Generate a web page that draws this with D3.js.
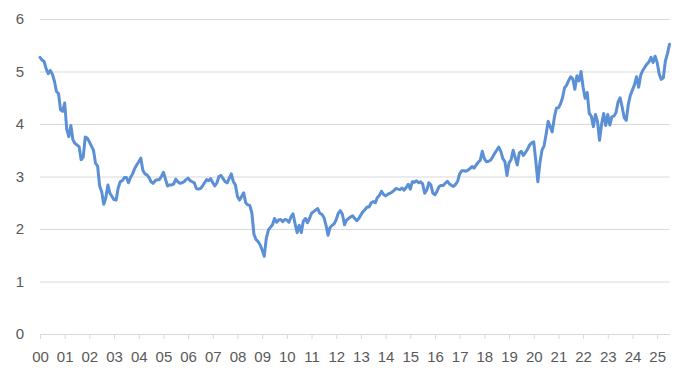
<!DOCTYPE html>
<html>
<head>
<meta charset="utf-8">
<script src="https://cdn.jsdelivr.net/npm/d3@7"></script>
<style>
  html, body { margin: 0; padding: 0; background: #ffffff; }
  svg { display: block; }
  .tick text { font-family: "Liberation Sans", Arial, sans-serif; font-size: 15px; fill: #595959; }
</style>
</head>
<body>
<svg id="chart" width="681" height="377"></svg>
<script>
// Monthly values, Jan 2000 .. Jul 2025
const values2000s = [
  5.27, 5.22, 5.19, 5.05, 4.96, 5.02, 4.95, 4.82, 4.62, 4.58, 4.27, 4.24,
  4.40, 3.90, 3.76, 3.97, 3.70, 3.63, 3.60, 3.57, 3.32, 3.37, 3.75, 3.73,
  3.66, 3.58, 3.50, 3.25, 3.20, 2.82, 2.71, 2.47, 2.60, 2.84, 2.68, 2.62,
  2.56, 2.55, 2.78, 2.90, 2.92, 2.98, 2.98, 2.88, 2.98, 3.05, 3.15, 3.22,
  3.28, 3.35, 3.12, 3.05, 3.03, 2.98, 2.90, 2.87, 2.92, 2.94, 2.94, 3.00,
  3.08, 2.95, 2.82, 2.84, 2.84, 2.86, 2.95, 2.90, 2.87, 2.88, 2.90, 2.94,
  2.97, 2.92, 2.90, 2.88, 2.77, 2.76, 2.77, 2.82, 2.88, 2.94, 2.92, 2.96,
  2.88, 2.82, 2.88, 3.00, 3.02, 2.96, 2.90, 2.88, 2.97, 3.05, 2.90, 2.84,
  2.62, 2.55, 2.62, 2.69, 2.50, 2.46, 2.45, 2.30, 1.90, 1.80, 1.76, 1.70,
  1.60, 1.48, 1.82, 1.98, 2.03, 2.08, 2.20, 2.13, 2.17, 2.18, 2.14, 2.18
];
const values2010s = [
  2.17, 2.13, 2.23, 2.29, 2.10, 1.93, 2.07, 1.93, 2.15, 2.20, 2.12, 2.20,
  2.30, 2.33, 2.36, 2.39, 2.30, 2.28, 2.22, 2.08, 1.88, 2.03, 2.07, 2.10,
  2.18, 2.30, 2.35, 2.28, 2.08, 2.17, 2.20, 2.23, 2.25, 2.20, 2.16, 2.20,
  2.27, 2.33, 2.37, 2.42, 2.42, 2.50, 2.52, 2.50, 2.60, 2.64, 2.72, 2.66,
  2.63, 2.66, 2.68, 2.70, 2.73, 2.77, 2.76, 2.75, 2.78, 2.74, 2.79, 2.85,
  2.76, 2.90, 2.89, 2.92, 2.88, 2.90, 2.86, 2.68, 2.74, 2.88, 2.84, 2.68,
  2.65, 2.72, 2.81, 2.83, 2.83, 2.87, 2.91, 2.86, 2.83, 2.81, 2.85, 2.91,
  3.05, 3.11, 3.11, 3.10, 3.12, 3.15, 3.19, 3.16, 3.22, 3.27, 3.31, 3.48,
  3.34, 3.28, 3.29, 3.31, 3.37, 3.44, 3.50, 3.56, 3.48, 3.34, 3.28, 3.02,
  3.26, 3.32, 3.50, 3.36, 3.22, 3.45, 3.48, 3.40, 3.46, 3.52, 3.60, 3.64
];
const values2020s = [
  3.66, 3.30, 2.90, 3.26, 3.50, 3.58, 3.80, 4.05, 3.95, 3.85, 4.12, 4.30,
  4.31, 4.38, 4.50, 4.69, 4.74, 4.83, 4.90, 4.86, 4.66, 4.92, 4.82, 5.00,
  4.70, 4.49, 4.60, 4.20, 4.15, 3.95, 4.18, 4.05, 3.69, 4.00, 4.20, 3.97,
  4.18, 3.98, 4.14, 4.15, 4.22, 4.42, 4.50, 4.32, 4.12, 4.07, 4.38, 4.55,
  4.65, 4.75, 4.90, 4.70, 4.93, 5.02, 5.08, 5.14, 5.18, 5.27, 5.17, 5.29,
  5.17, 4.95, 4.85, 4.88, 5.20, 5.34, 5.52
];
const yearLabels = ["00","01","02","03","04","05","06","07","08","09","10","11","12",
                    "13","14","15","16","17","18","19","20","21","22","23","24","25"];
const yTicks = [0, 1, 2, 3, 4, 5, 6];

(function () {
  const values = values2000s.concat(values2010s, values2020s);

  const svg = d3.select("#chart");
  const mLeft = 40, mRight = 669.5, mTop = 19, mBottom = 334;

  const x = d3.scaleLinear().domain([0, values.length - 1]).range([mLeft, mRight]);
  const y = d3.scaleLinear().domain([0, 6]).range([mBottom, mTop]);

  // Y axis with gridlines
  const yAxis = d3.axisLeft(y)
    .tickValues(yTicks)
    .tickFormat(d3.format("d"))
    .tickSize(-(mRight - mLeft))
    .tickPadding(16);
  const gy = svg.append("g").attr("transform", `translate(${mLeft},0)`).call(yAxis);
  gy.select(".domain").remove();
  gy.selectAll(".tick line").attr("stroke", "#d9d9d9").attr("stroke-width", 1);

  // X axis
  const xTickIdx = yearLabels.map((_, i) => i * 12);
  const xAxis = d3.axisBottom(x)
    .tickValues(xTickIdx)
    .tickFormat((d, i) => yearLabels[i])
    .tickSize(5)
    .tickSizeOuter(0)
    .tickPadding(12);
  const gx = svg.append("g").attr("transform", `translate(0,${mBottom})`).call(xAxis);
  gx.select(".domain").attr("stroke", "#d9d9d9");
  gx.selectAll(".tick line").attr("stroke", "#d9d9d9");

  // Line
  const line = d3.line()
    .x((d, i) => x(i))
    .y(d => y(d));

  svg.append("path")
    .datum(values)
    .attr("fill", "none")
    .attr("stroke", "#5b8fd6")
    .attr("stroke-width", 3)
    .attr("stroke-linejoin", "round")
    .attr("stroke-linecap", "round")
    .attr("d", line);
})();
</script>
</body>
</html>
